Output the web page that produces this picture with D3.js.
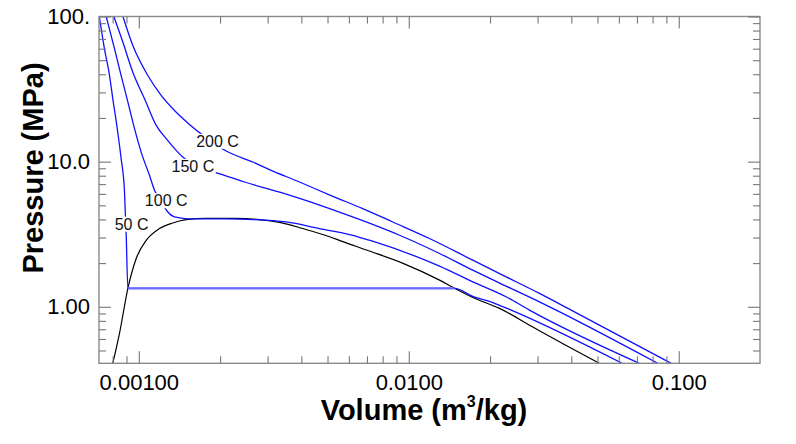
<!DOCTYPE html>
<html><head><meta charset="utf-8">
<script src="https://cdn.jsdelivr.net/npm/d3@7"></script>
<style>body{margin:0;background:#fff} svg{display:block}</style>
</head><body><svg id="c" width="796" height="444"></svg>
<script>
// ---- data (volume m3/kg, pressure MPa) ----
const isoNames = ["50 C", "100 C", "150 C", "200 C"];
const v50 = [0.000714, 0.000746, 0.000779, 0.000801, 0.000832, 0.000860, 0.000885, 0.000898, 0.000911, 0.0148, 0.01726, 0.02047, 0.0236, 0.0617];
const p50 = [100, 59.9, 39.2, 27.1, 16.87, 10.49, 6.18, 3.11, 1.34, 1.34, 1.18, 1.07, 0.96, 0.408];
const v100 = [0.000757, 0.000813, 0.000860, 0.000911, 0.000964, 0.00102, 0.001095, 0.001143, 0.001213, 0.001274, 0.001356, 0.001519, 0.002077, 0.002644, 0.003515, 0.00467, 0.0062, 0.00715, 0.0130, 0.01726, 0.02294, 0.02799, 0.0715];
const p100 = [100, 59.9, 39.2, 25.7, 16.87, 11.64, 8.05, 6.35, 5.25, 4.55, 4.16, 4.04, 4.03, 3.99, 3.84, 3.46, 3.11, 2.876, 1.905, 1.486, 1.172, 0.949, 0.408];
const v150 = [0.000808, 0.000873, 0.00095, 0.00105, 0.00116, 0.001263, 0.001375, 0.001455, 0.00165, 0.001907, 0.002077, 0.002463, 0.003614, 0.00509, 0.00695, 0.00924, 0.0130, 0.01726, 0.02294, 0.03048, 0.03516, 0.0836];
const p150 = [100, 66.5, 41.3, 27.1, 17.77, 14.39, 11.96, 10.75, 9.43, 8.48, 8.05, 7.24, 5.87, 4.75, 3.84, 3.11, 2.33, 1.788, 1.388, 1.082, 0.949, 0.408];
const v200 = [0.000873, 0.00095, 0.00108, 0.00121, 0.001356, 0.00154, 0.001751, 0.002107, 0.002644, 0.003048, 0.003937, 0.00523, 0.00675, 0.00872, 0.01193, 0.01726, 0.02294, 0.03048, 0.03995, 0.0937];
const p200 = [100, 63.1, 39.2, 28.6, 22.5, 18.06, 14.93, 11.83, 9.94, 8.81, 7.24, 5.77, 4.75, 3.84, 2.953, 2.095, 1.608, 1.236, 0.949, 0.408];
const domeV = [0.000801, 0.000848, 0.000911, 0.000978, 0.001065, 0.001193, 0.001336, 0.001498, 0.001777, 0.002295, 0.0028, 0.00332, 0.00405, 0.00509, 0.0057, 0.00697, 0.00948, 0.0130, 0.0148, 0.01726, 0.02168, 0.0287, 0.03614, 0.0508];
const domeP = [0.408, 0.656, 1.34, 2.15, 2.87, 3.46, 3.78, 3.99, 4.06, 4.06, 3.99, 3.82, 3.46, 3.04, 2.81, 2.46, 2.0, 1.526, 1.34, 1.16, 0.975, 0.729, 0.574, 0.408];
const tieV = [0.000911, 0.0148];
const tieP = [1.34, 1.34];
const labelV = [0.000940, 0.001263, 0.001586, 0.001957];
const labelP = [3.71, 5.38, 9.28, 13.79];
const xMajor = [0.001, 0.01, 0.1];
const xMajorLabels = ["0.00100", "0.0100", "0.100"];
const yMajor = [1, 10, 100];
const yMajorLabels = ["1.00", "10.0", "100."];
const xTitle = "Volume (m";
const xTitleSup = "3";
const xTitleEnd = "/kg)";
const yTitle = "Pressure (MPa)";

// ---- layout ----
const L = 99, R = 760, T = 16.5, B = 363.3;
const FONT = "'Liberation Sans', Arial, Helvetica, sans-serif";
const svg = d3.select("#c");
const x = d3.scaleLog().domain([0.000712, 0.2]).range([L, R]);
const y = d3.scaleLog().domain([0.408, 100]).range([B, T]);

const minorX = [];
[0.0001, 0.001, 0.01, 0.1].forEach(d => { for (let k = 2; k <= 9; k++) { const v = d * k; if (v > 0.000712 && v < 0.2) minorX.push(v); } });
const minorY = [];
[0.1, 1, 10].forEach(d => { for (let k = 2; k <= 9; k++) { const v = d * k; if (v > 0.408 && v < 100) minorY.push(v); } });

svg.append("defs").append("clipPath").attr("id", "clip")
  .append("rect").attr("x", L).attr("y", T).attr("width", R - L).attr("height", B - T);

const plot = svg.append("g").attr("clip-path", "url(#clip)");
const line = d3.line().x(d => x(d[0])).y(d => y(d[1])).curve(d3.curveMonotoneX);
const zip = (a, b) => a.map((v, i) => [v, b[i]]);

plot.append("path").attr("d", line(zip(domeV, domeP)))
  .attr("fill", "none").attr("stroke", "#000").attr("stroke-width", 1.2);

const isos = [zip(v50, p50), zip(v100, p100), zip(v150, p150), zip(v200, p200)];
isos.forEach(s => plot.append("path").attr("d", line(s))
  .attr("fill", "none").attr("stroke", "#1010ff").attr("stroke-width", 1.3));

plot.append("path").attr("d", d3.line().x(d => x(d[0])).y(d => y(d[1]))(zip(tieV, tieP)))
  .attr("fill", "none").attr("stroke", "#6a6aff").attr("stroke-width", 2.2);

// labels with white background
isoNames.forEach((name, i) => {
  const g = svg.append("g");
  const t = g.append("text").attr("x", x(labelV[i])).attr("y", y(labelP[i]))
    .attr("text-anchor", "middle").attr("dominant-baseline", "central")
    .attr("font-family", FONT).attr("font-size", 16).attr("fill", "#111").text(name);
  const bb = t.node().getBBox();
  g.insert("rect", "text").attr("x", bb.x - 1.5).attr("y", bb.y + 1).attr("width", bb.width + 3).attr("height", bb.height - 2).attr("fill", "#fff");
});

// frame
svg.append("rect").attr("x", L).attr("y", T).attr("width", R - L).attr("height", B - T)
  .attr("fill", "none").attr("stroke", "#8a8a8a").attr("stroke-width", 1.4);

function addAxis(axisFn, scale, ticks, size, tr, labels, pad) {
  const a = axisFn(scale).tickValues(ticks).tickSize(size).tickSizeOuter(0).tickPadding(pad)
    .tickFormat(labels ? ((d, i) => labels[i]) : "");
  const g = svg.append("g").attr("transform", tr).call(a);
  g.select(".domain").remove();
  g.selectAll("line").attr("stroke", "#777").attr("stroke-width", 1.1);
  g.selectAll("text").attr("font-family", FONT).attr("fill", "#000");
  return g;
}
// bottom
addAxis(d3.axisBottom, x, minorX, -7, `translate(0,${B})`, null, 0);
const xb = addAxis(d3.axisBottom, x, xMajor, -12, `translate(0,${B})`, xMajorLabels, 11);
xb.selectAll("text").attr("font-size", 22);
// top
addAxis(d3.axisTop, x, minorX, -7, `translate(0,${T})`, null, 0);
addAxis(d3.axisTop, x, xMajor, -12, `translate(0,${T})`, null, 0);
// left
addAxis(d3.axisLeft, y, minorY, -7, `translate(${L},0)`, null, 0);
const yl = addAxis(d3.axisLeft, y, yMajor, -12, `translate(${L},0)`, yMajorLabels, 9);
yl.selectAll("text").attr("font-size", 22);
// right
addAxis(d3.axisRight, y, minorY, -7, `translate(${R},0)`, null, 0);
addAxis(d3.axisRight, y, yMajor, -12, `translate(${R},0)`, null, 0);

// titles
const xt = svg.append("text").attr("x", 424).attr("y", 420).attr("text-anchor", "middle")
  .attr("font-family", FONT).attr("font-weight", "bold").attr("font-size", 29).attr("fill", "#000");
xt.append("tspan").text(xTitle);
xt.append("tspan").attr("font-size", 16).attr("dy", -13).text(xTitleSup);
xt.append("tspan").attr("dy", 13).text(xTitleEnd);

svg.append("text").attr("transform", "translate(43,168) rotate(-90)").attr("text-anchor", "middle")
  .attr("font-family", FONT).attr("font-weight", "bold").attr("font-size", 29).attr("fill", "#000")
  .text(yTitle);
</script></body></html>
